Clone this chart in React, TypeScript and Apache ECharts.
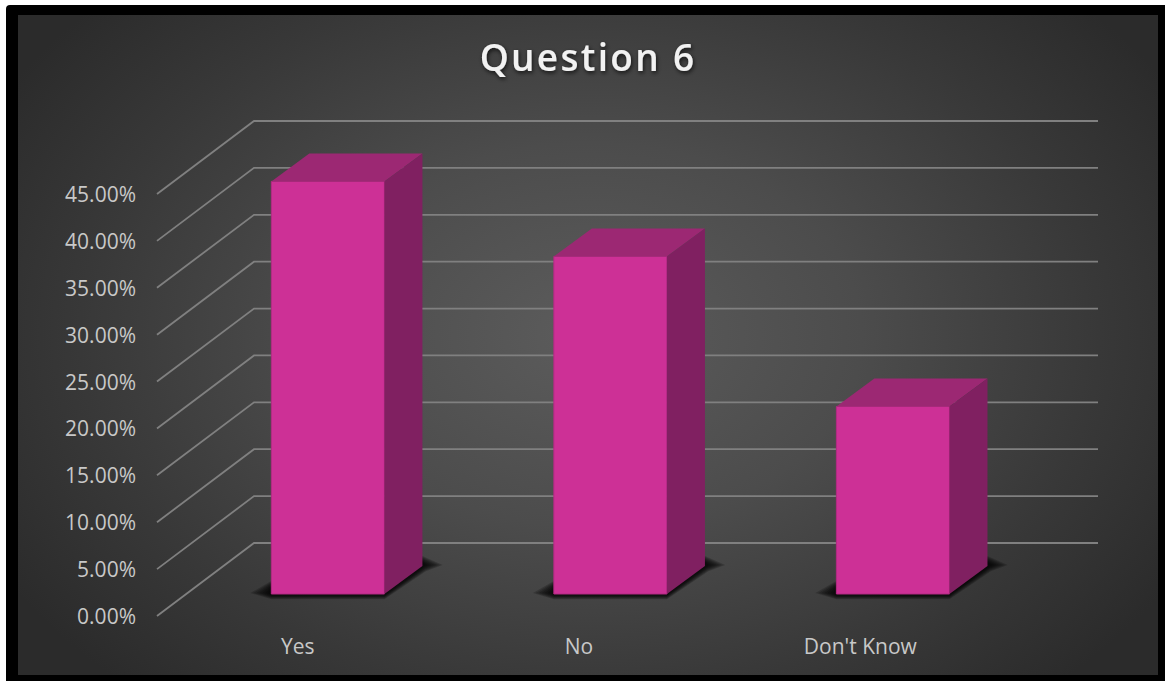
import React, { useEffect, useRef } from "react";
import * as echarts from "echarts";

const chartTitle = "Question 6";
const categories = ["Yes", "No", "Don't Know"];
const responseShares = [44, 36, 20];
const gridValues = [0, 5, 10, 15, 20, 25, 30, 35, 40, 45];

// Projection of the pseudo-3D box, in pixels
const WALL_DX = 97;
const WALL_DY = -73;
const BAR_SHIFT_X = 30.2;
const BAR_STEP_EXTRA = 1.2;
const BAR_SHIFT_Y = -22;
const BAR_DEPTH_X = 38;
const BAR_DEPTH_Y = -28;
const BAR_WIDTH_RATIO = 0.402;
const SHADOW_LAYERS = 7;

const renderGridLine = (params: any, api: any) => {
  const rect = params.coordSys;
  const p = api.coord([0, api.value(0)]);
  const left = rect.x;
  const right = rect.x + rect.width;
  return {
    type: "polyline",
    silent: true,
    shape: {
      points: [
        [left, p[1]],
        [left + WALL_DX, p[1] + WALL_DY],
        [right + WALL_DX, p[1] + WALL_DY],
      ],
    },
    style: { fill: "none", stroke: "#808080", lineWidth: 1.8 },
  };
};

const renderBar = (_params: any, api: any) => {
  const cat = api.value(0);
  const top = api.coord([cat, api.value(1)]);
  const base = api.coord([cat, 0]);
  const w = api.size([1, 0])[0] * BAR_WIDTH_RATIO;
  const x0 = top[0] + BAR_SHIFT_X + cat * BAR_STEP_EXTRA - w / 2;
  const x1 = x0 + w;
  const yT = top[1] + BAR_SHIFT_Y;
  const yB = base[1] + BAR_SHIFT_Y;
  const dx = BAR_DEPTH_X;
  const dy = BAR_DEPTH_Y;

  // Soft floor shadow: stacked translucent outlines, widest first
  const shadow = [];
  for (let t = SHADOW_LAYERS - 1; t >= 0; t--) {
    shadow.push({
      type: "polygon",
      silent: true,
      shape: {
        points: [
          [x0, yB - 7 - t],
          [x0 - 3 - 3 * t, yB - 1],
          [x0, yB + 1 + 0.7 * t],
          [x1, yB + 1 + 0.7 * t],
          [x1 + dx + 1 + 0.4 * t, yB + dy + 1 + 0.7 * t],
          [x1 + dx + 4 + 2.7 * t, yB + dy - 1],
          [x1 + dx, yB + dy - 4 - t],
          [x1, yB - 12],
        ],
      },
      style: { fill: "rgba(0,0,0,0.2)" },
    });
  }

  return {
    type: "group",
    children: [
      ...shadow,
      {
        type: "rect",
        shape: { x: x0, y: yT, width: w, height: yB - yT },
        style: { fill: "#cd3096", stroke: "#b32a84", lineWidth: 1 },
      },
      {
        type: "polygon",
        shape: {
          points: [
            [x0, yT],
            [x0 + dx, yT + dy],
            [x1 + dx, yT + dy],
            [x1, yT],
          ],
        },
        style: { fill: "#9c2873" },
      },
      {
        type: "polygon",
        shape: {
          points: [
            [x1, yT],
            [x1 + dx, yT + dy],
            [x1 + dx, yB + dy],
            [x1, yB],
          ],
        },
        style: { fill: "#802061" },
      },
    ],
  };
};

export default function App() {
  const ref = useRef<HTMLDivElement>(null);

  useEffect(() => {
    const chart = echarts.init(ref.current!, undefined, { renderer: "svg" });
    chart.setOption({
      animation: false,
      backgroundColor: "transparent",
      title: {
        text: chartTitle,
        left: 583,
        top: 33,
        textAlign: "center",
        textStyle: {
          fontFamily: "Open Sans",
          fontSize: 37,
          fontWeight: 600,
          color: "#f2f2f2",
          textShadowColor: "rgba(0,0,0,0.7)",
          textShadowBlur: 4,
          textShadowOffsetX: 1,
          textShadowOffsetY: 2,
        },
      },
      grid: { left: 157, top: 194, width: 844, height: 422 },
      xAxis: {
        type: "category",
        data: categories,
        axisLine: { show: false },
        axisTick: { show: false },
        axisLabel: {
          color: "#c8c8c8",
          fontFamily: "Open Sans",
          fontSize: 21,
          margin: 19,
        },
      },
      yAxis: {
        type: "value",
        min: 0,
        max: 45,
        interval: 5,
        splitLine: { show: false },
        axisLine: { show: false },
        axisTick: { show: false },
        axisLabel: {
          color: "#c8c8c8",
          fontFamily: "Open Sans",
          fontSize: 21,
          margin: 21,
          padding: [2, 0, 0, 0],
          formatter: (v: number) => v.toFixed(2) + "%",
        },
      },
      series: [
        {
          type: "custom",
          name: "Gridlines",
          z: 1,
          silent: true,
          data: gridValues.map((v) => [v]),
          encode: { y: 0 },
          renderItem: renderGridLine,
        },
        {
          type: "custom",
          name: chartTitle,
          z: 2,
          data: responseShares.map((v, i) => [i, v]),
          encode: { x: 0, y: 1 },
          renderItem: renderBar,
        },
      ],
    });

    // The heading is tracked out; the SVG text element takes this directly
    ref.current!.querySelectorAll("text").forEach((node) => {
      if (node.textContent === chartTitle) node.style.letterSpacing = "2.3px";
    });

    return () => chart.dispose();
  }, []);

  return (
    <div
      style={{
        position: "fixed",
        left: 0,
        top: 0,
        width: 1165,
        height: 681,
        overflow: "hidden",
        background: "#fff",
      }}
    >
      <div
        style={{
          position: "absolute",
          left: 6,
          top: 5,
          width: 1159,
          height: 676,
          background: "#000",
          borderTopLeftRadius: 4,
        }}
      />
      <div
        style={{
          position: "absolute",
          left: 18,
          top: 15,
          width: 1140,
          height: 660,
          background:
            "radial-gradient(ellipse 680px 480px at 572px 320px, #5c5c5c 0%, #4c4c4c 40%, #383838 75%, #2b2b2b 100%)",
        }}
      />
      <div ref={ref} style={{ position: "absolute", left: 0, top: 0, width: 1165, height: 681 }} />
    </div>
  );
}
